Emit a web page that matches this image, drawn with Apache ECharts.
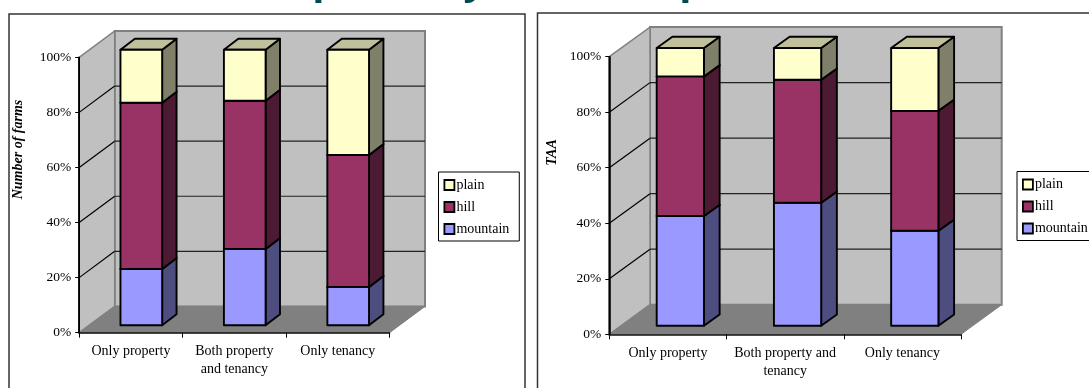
<!DOCTYPE html>
<html>
<head>
<meta charset="utf-8">
<style>html,body{margin:0;padding:0;background:#fff}#chart{width:1089px;height:389px}</style>
<script src="https://cdn.jsdelivr.net/npm/echarts@6/dist/echarts.min.js"></script>
</head>
<body>
<div id="chart"></div>
<script>
// Farm shares by tenure type and altimetric zone, percent of each stacked column
const categoriesFarms = ['Only property', 'Both property\nand tenancy', 'Only tenancy'];
const categoriesTaa = ['Only property', 'Both property and\ntenancy', 'Only tenancy'];
const legendOrder = ['plain', 'hill', 'mountain'];

const farmsMountain = [20.4, 27.7, 13.9];
const farmsHill = [60.4, 53.8, 47.9];
const farmsPlain = [19.2, 18.5, 38.2];

const taaMountain = [39.5, 44.3, 34.2];
const taaHill = [50.3, 44.3, 43.2];
const taaPlain = [10.2, 11.4, 22.6];

const axisTicks = [0, 20, 40, 60, 80, 100];

const zoneColors = {
  mountain: { front: '#9999ff', side: '#4d4d80', top: '#8c8cc0' },
  hill: { front: '#993366', side: '#4d1a33', top: '#733350' },
  plain: { front: '#ffffcc', side: '#80806a', top: '#c0c09c' }
};

const SERIF = '"Liberation Serif", "Times New Roman", serif';

// Renders the box walls and floor behind the columns
function wallsRenderer(depthX, depthY) {
  return function (params, api) {
    const band = api.size([1, 0])[0];
    const left = api.coord([0, 0])[0] - band / 2;
    const right = left + band * 3;
    const y0 = api.coord([0, 0])[1];
    const y100 = api.coord([0, 100])[1];
    const poly = (pts, fill, stroke, width) => ({
      type: 'polygon',
      shape: { points: pts },
      style: { fill: fill, stroke: stroke, lineWidth: width }
    });
    const line = (x1, y1, x2, y2, stroke, width) => ({
      type: 'line',
      shape: { x1, y1, x2, y2 },
      style: { stroke: stroke, lineWidth: width }
    });
    const children = [
      poly([[left + depthX, y100 - depthY], [right + depthX, y100 - depthY], [right + depthX, y0 - depthY], [left + depthX, y0 - depthY]], '#c0c0c0', '#808080', 2),
      poly([[left, y100], [left + depthX, y100 - depthY], [left + depthX, y0 - depthY], [left, y0]], '#c0c0c0', '#808080', 1.5),
      poly([[left, y0], [left + depthX, y0 - depthY], [right + depthX, y0 - depthY], [right, y0]], '#808080', '#808080', 1)
    ];
    axisTicks.slice(1, -1).forEach(t => {
      const y = api.coord([0, t])[1];
      children.push(line(left, y, left + depthX, y - depthY, '#000', 1.2));
      children.push(line(left + depthX, y - depthY, right + depthX, y - depthY, '#222', 1.2));
    });
    children.push(line(left, y100, left, y0, '#000', 1.5));
    return { type: 'group', children };
  };
}

// Renders one stacked segment as a front face, a side face and a top face
function columnRenderer(zone, shiftX, shiftY, depthX, depthY, widthRatio) {
  const c = zoneColors[zone];
  return function (params, api) {
    const cat = api.value(0);
    const a = api.coord([cat, api.value(1)]);
    const b = api.coord([cat, api.value(2)]);
    const w = api.size([1, 0])[0] * widthRatio;
    const x0 = a[0] + shiftX - w / 2;
    const x1 = x0 + w;
    const yb = a[1] - shiftY;
    const yt = b[1] - shiftY;
    const face = (pts, fill) => ({
      type: 'polygon',
      shape: { points: pts },
      style: { fill: fill, stroke: '#000', lineWidth: 1.9, lineJoin: 'round' }
    });
    return {
      type: 'group',
      children: [
        face([[x1, yb], [x1 + depthX, yb - depthY], [x1 + depthX, yt - depthY], [x1, yt]], c.side),
        face([[x0, yt], [x1, yt], [x1 + depthX, yt - depthY], [x0 + depthX, yt - depthY]], c.top),
        face([[x0, yb], [x1, yb], [x1, yt], [x0, yt]], c.front)
      ]
    };
  };
}

function stackedSeries(axisIndex, zones, geom) {
  const base = [0, 0, 0];
  const out = [{
    type: 'custom',
    silent: true,
    xAxisIndex: axisIndex,
    yAxisIndex: axisIndex,
    z: 1,
    clip: false,
    data: [[0, 0]],
    renderItem: wallsRenderer(geom.wallX, geom.wallY)
  }];
  zones.forEach(([name, values]) => {
    const data = values.map((v, i) => {
      const row = [i, base[i], base[i] + v];
      base[i] += v;
      return row;
    });
    out.push({
      type: 'custom',
      name: name,
      xAxisIndex: axisIndex,
      yAxisIndex: axisIndex,
      z: 2,
      clip: false,
      itemStyle: { color: zoneColors[name].front },
      encode: { x: 0, y: [1, 2] },
      data: data,
      renderItem: columnRenderer(name, geom.shiftX, geom.shiftY, geom.depthX, geom.depthY, geom.widthRatio)
    });
  });
  return out;
}

function makeXAxis(gridIndex, cats) {
  return {
    type: 'category',
    gridIndex: gridIndex,
    data: cats,
    z: 10,
    axisLine: { show: true, lineStyle: { color: '#111', width: 1.5 } },
    axisTick: { show: true, alignWithLabel: false, interval: 0, length: 5, lineStyle: { color: '#000', width: 1 } },
    axisLabel: { color: '#000', fontFamily: SERIF, fontSize: 14, lineHeight: 18, margin: 10, interval: 0 },
    splitLine: { show: false }
  };
}

function makeYAxis(gridIndex, title, shift, gap) {
  return {
    type: 'value',
    gridIndex: gridIndex,
    min: 0,
    max: 100,
    interval: 20,
    z: 10,
    name: title,
    nameLocation: 'middle',
    nameGap: gap,
    nameRotate: 90,
    nameTextStyle: { color: '#000', fontFamily: SERIF, fontStyle: 'italic', fontWeight: 'bold', fontSize: 14, padding: [0, 0, 0, shift] },
    axisLine: { show: true, lineStyle: { color: '#000', width: 1.5 } },
    axisTick: { show: true, length: 4, lineStyle: { color: '#000', width: 1 } },
    axisLabel: { color: '#000', fontFamily: SERIF, fontSize: 13.5, margin: 8, formatter: '{value}%' },
    splitLine: { show: false }
  };
}

function makeLegend(left, top, rightPad) {
  return {
    data: legendOrder,
    orient: 'vertical',
    left: left,
    top: top,
    icon: 'rect',
    itemWidth: 10,
    itemHeight: 10,
    itemGap: 8,
    padding: [6, rightPad, 5, 5],
    borderColor: '#000',
    borderWidth: 1,
    backgroundColor: '#fff',
    selectedMode: false,
    itemStyle: { borderColor: '#000', borderWidth: 1.8 },
    textStyle: { color: '#000', fontFamily: SERIF, fontSize: 14, padding: [0, 0, 0, -3] }
  };
}

// Heading that runs off the top edge; only its descenders stay in view
function headingGlyph(text, x) {
  return {
    type: 'text',
    x: x,
    y: 3,
    style: {
      text: text,
      fill: '#004b50',
      font: 'bold 40px "Open Sans", sans-serif',
      textAlign: 'center',
      textVerticalAlign: 'bottom'
    }
  };
}

const frameLeft = { type: 'polyline', shape: { points: [[9, 388], [9, 14], [525, 14], [525, 388]] }, style: { fill: 'none', stroke: '#333', lineWidth: 1.5 } };
const frameRight = { type: 'polyline', shape: { points: [[537.5, 388], [537.5, 13], [1089, 13]] }, style: { fill: 'none', stroke: '#333', lineWidth: 1.5 } };

const option = {
  animation: false,
  backgroundColor: '#fff',
  graphic: [frameLeft, frameRight, headingGlyph('p', 325), headingGlyph('y', 475), headingGlyph('p', 692)],
  grid: [
    { left: 79.2, width: 310.3, top: 57.3, height: 275.4 },
    { left: 609.3, width: 351.7, top: 56.7, height: 277.6 }
  ],
  xAxis: [makeXAxis(0, categoriesFarms), makeXAxis(1, categoriesTaa)],
  yAxis: [makeYAxis(0, 'Number of farms', 91, 54), makeYAxis(1, 'TAA', 86, 50)],
  legend: [makeLegend(438.5, 172, 10), makeLegend(1017, 171.5, 30)],
  series: [
    ...stackedSeries(0, [['mountain', farmsMountain], ['hill', farmsHill], ['plain', farmsPlain]],
      { wallX: 35.5, wallY: 26.3, shiftX: 10.4, shiftY: 7.5, depthX: 14.4, depthY: 11, widthRatio: 0.403 }),
    ...stackedSeries(1, [['mountain', taaMountain], ['hill', taaHill], ['plain', taaPlain]],
      { wallX: 40.7, wallY: 29.6, shiftX: 12.4, shiftY: 8.6, depthX: 15.7, depthY: 11.3, widthRatio: 0.403 })
  ]
};

echarts.init(document.getElementById('chart'), null, { renderer: 'canvas' }).setOption(option);
</script>
</body>
</html>
